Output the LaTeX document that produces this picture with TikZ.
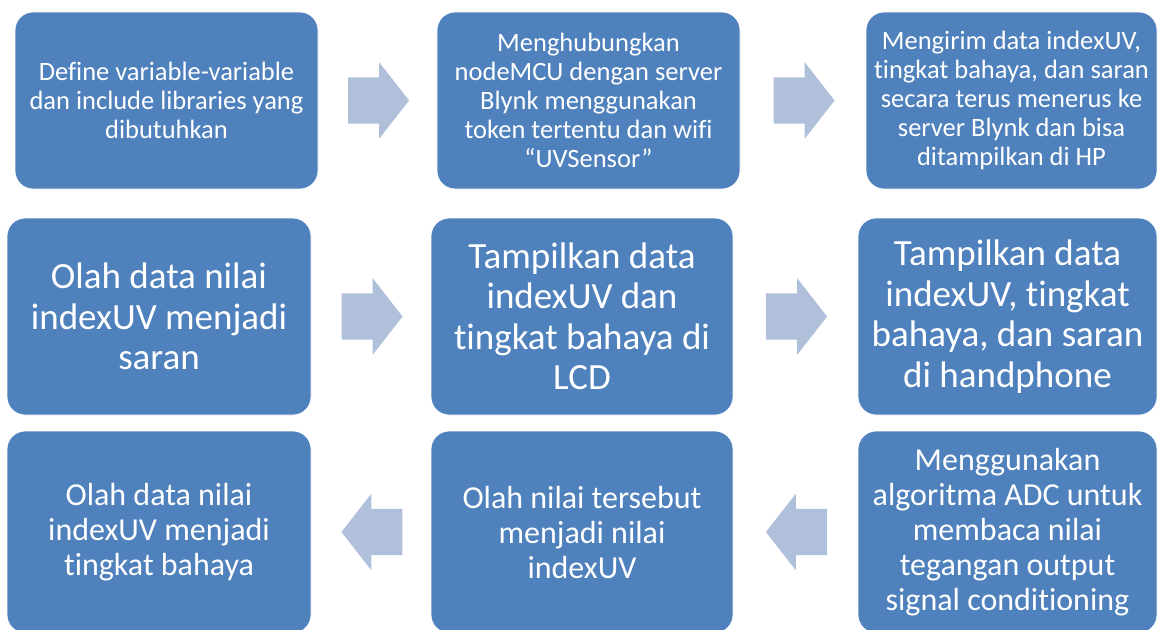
\documentclass[tikz,border=0pt]{standalone}
\usepackage{fontspec}
\setmainfont{Carlito}[Ligatures=NoCommon]
\usetikzlibrary{shapes.arrows}
\usetikzlibrary{calc}
\definecolor{boxblue}{HTML}{4F81BD}
\definecolor{arrowblue}{HTML}{B0BFDA}
\tikzset{
  stepbox/.style 2 args={rectangle,rounded corners=18pt,fill=boxblue,draw=white,
    line width=0.8pt,text=white,align=center,inner sep=0pt,
    minimum width=#1,minimum height=#2},
  smalltext/.style={font=\fontsize{26.5}{29}\selectfont},
  bigtext/.style={font=\fontsize{37}{40.5}\selectfont},
  midtext/.style={font=\fontsize{32}{35}\selectfont},
  blockarrow/.style={single arrow,fill=arrowblue,draw=none,inner xsep=0pt,
    inner ysep=23pt,minimum height=61pt,single arrow head extend=15pt,
    single arrow tip angle=104},
  rightarrow/.style={blockarrow,xshift=-8pt},
  leftarrow/.style={blockarrow,shape border rotate=180,xshift=10pt}
}

\begin{document}
\begin{tikzpicture}[x=1pt,y=-1pt]

  \useasboundingbox (0,0) rectangle (1158,629);

  % top row
  \node[stepbox={303pt}{177pt},smalltext] (b1) at (166.5,100.5)
    {Define variable-variable\\dan include libraries yang\\dibutuhkan};
  \node[stepbox={303pt}{177pt},smalltext] (b2) at (588.5,100.5)
    {Menghubungkan\\nodeMCU dengan server\\Blynk menggunakan\\token tertentu dan wifi\\“UVSensor”};
  \node[stepbox={291pt}{177pt},smalltext] (b3) at (1011.5,100.5)
    {Mengirim data indexUV,\\tingkat bahaya, dan saran\\secara terus menerus ke\\server Blynk dan bisa\\ditampilkan di HP};

  % middle row
  \node[stepbox={304pt}{197pt},bigtext] (b4) at (159,316.5)
    {Olah data nilai\\indexUV menjadi\\saran};
  \node[stepbox={302pt}{197pt},bigtext] (b5) at (582,316.5)
    {Tampilkan data\\indexUV dan\\tingkat bahaya di\\LCD};
  \node[stepbox={299pt}{197pt},bigtext] (b6) at (1007.5,316.5)
    {Tampilkan data\\indexUV, tingkat\\bahaya, dan saran\\di handphone};

  % bottom row
  \node[stepbox={304pt}{202pt},midtext] (b7) at (159,532)
    {Olah data nilai\\indexUV menjadi\\tingkat bahaya};
  \node[stepbox={302pt}{202pt},midtext] (b8) at (582,532)
    {Olah nilai tersebut\\menjadi nilai\\indexUV};
  \node[stepbox={299pt}{202pt},midtext] (b9) at (1007.5,532)
    {Menggunakan\\algoritma ADC untuk\\membaca nilai\\tegangan output\\signal conditioning};

  \node[rightarrow] (a12) at ($(b1.east)!0.5!(b2.west)$) {};
  \node[rightarrow] (a23) at ($(b2.east)!0.5!(b3.west)$) {};
  \node[rightarrow] (a45) at ($(b4.east)!0.5!(b5.west)$) {};
  \node[rightarrow] (a56) at ($(b5.east)!0.5!(b6.west)$) {};
  \node[leftarrow] (a98) at ($(b8.east)!0.5!(b9.west)$) {};
  \node[leftarrow] (a87) at ($(b7.east)!0.5!(b8.west)$) {};

\end{tikzpicture}
\end{document}
